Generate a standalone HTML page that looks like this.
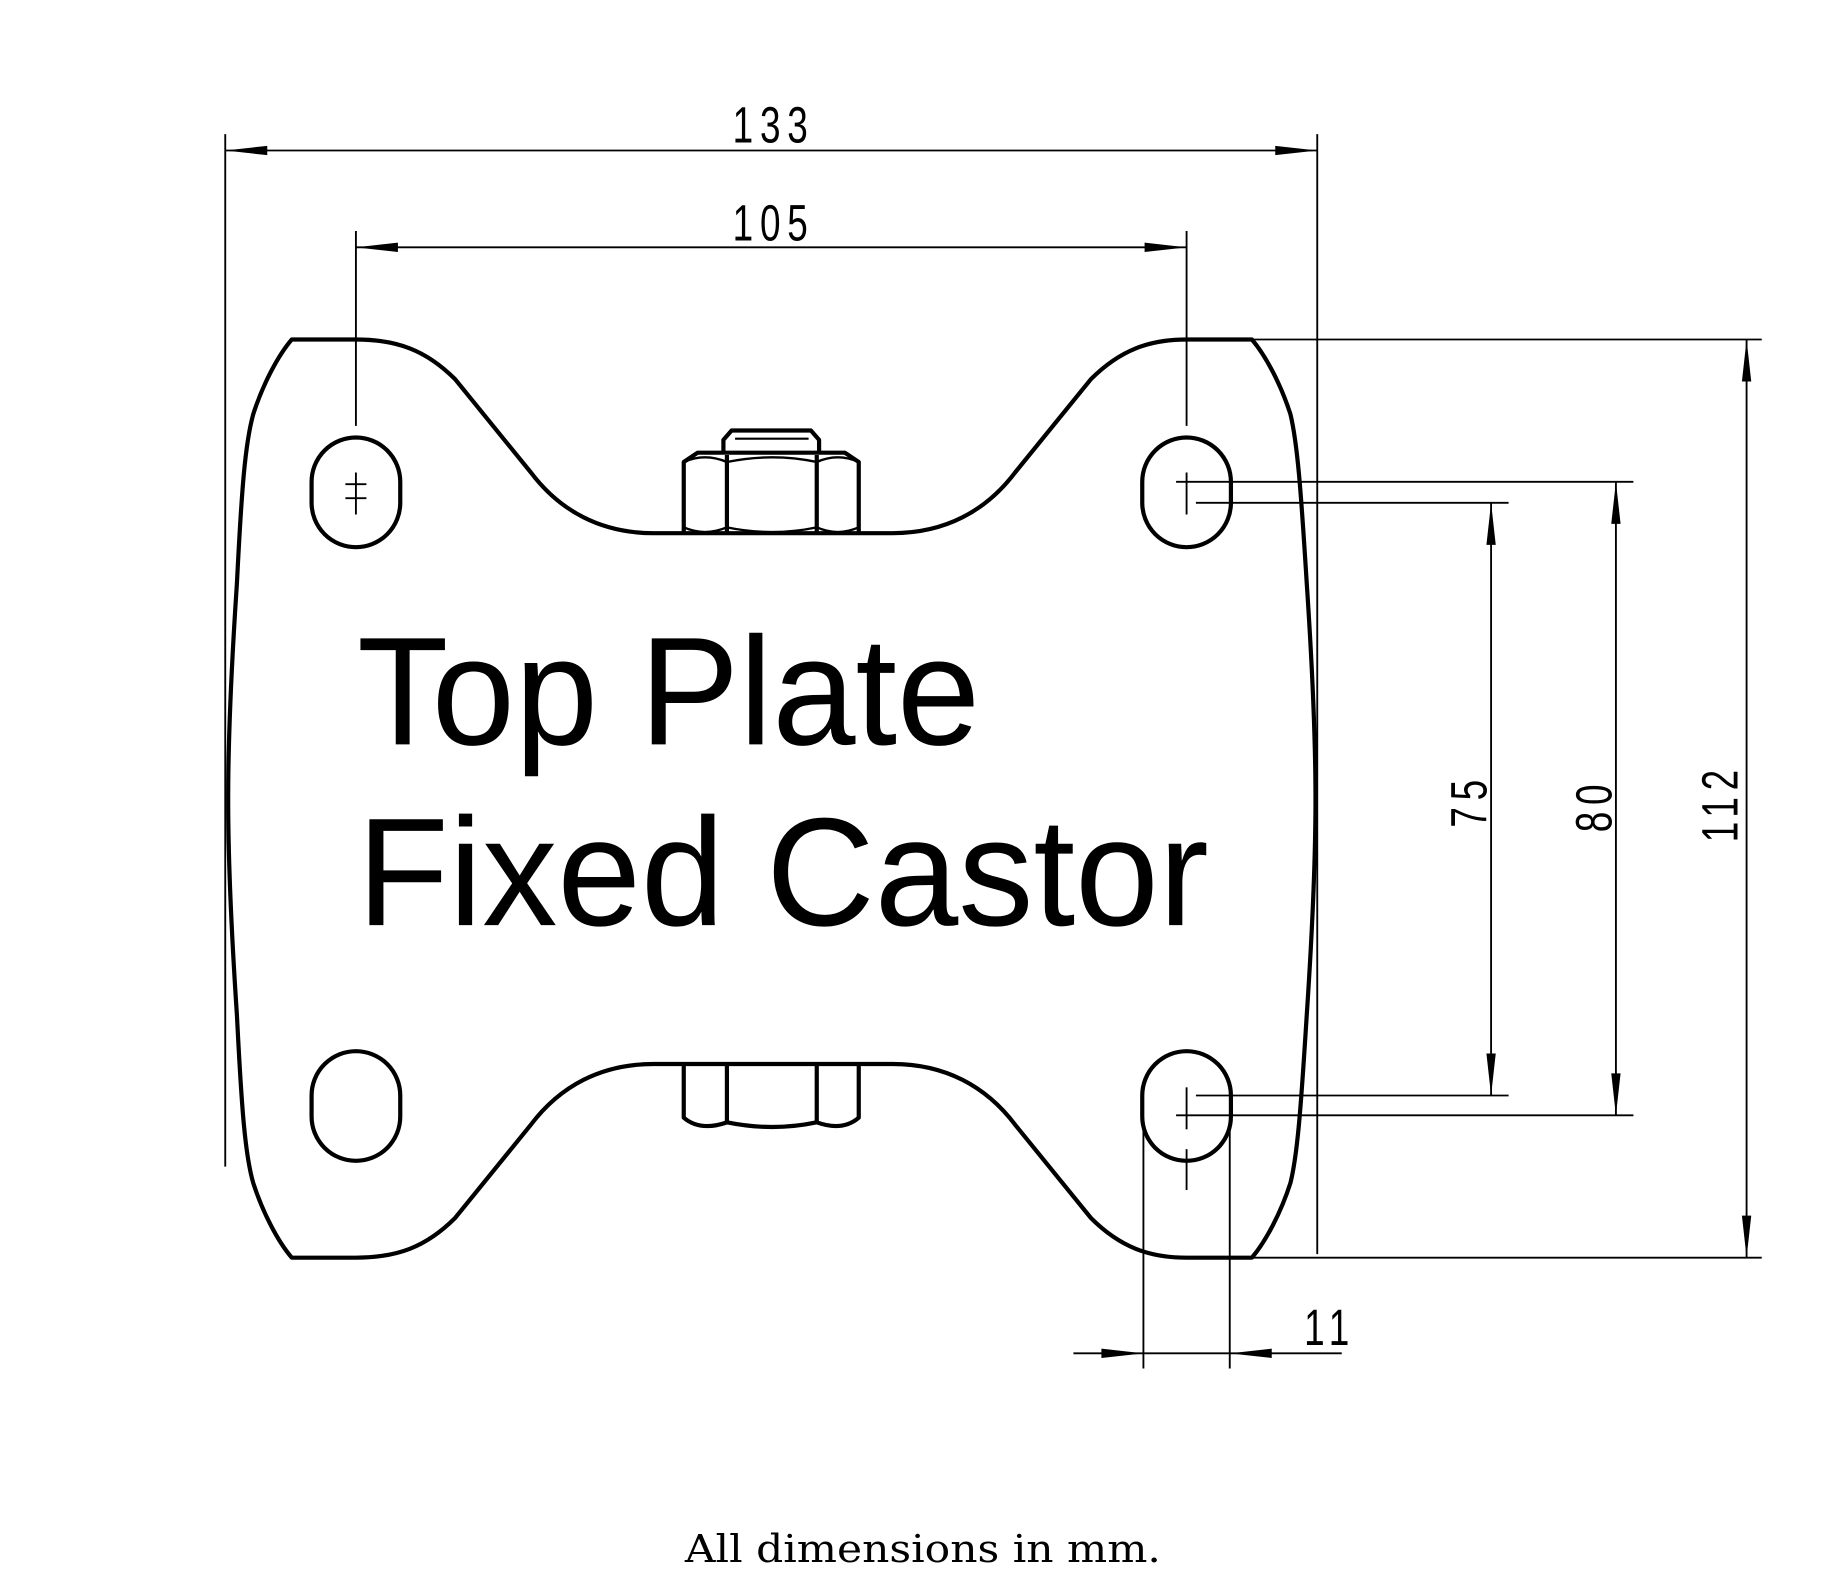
<!DOCTYPE html>
<html><head><style>html,body{margin:0;padding:0;background:#fff}svg{display:block}</style></head>
<body>
<svg width="1826" height="1575" viewBox="0 0 1565 1350" xmlns="http://www.w3.org/2000/svg">
<g fill="none" stroke="#000" stroke-width="1.6">
<!-- 133 -->
<line x1="193" y1="115" x2="193" y2="1000"/>
<line x1="1129" y1="115" x2="1129" y2="1075"/>
<line x1="193" y1="129" x2="1129" y2="129"/>
<!-- 105 -->
<line x1="305" y1="198" x2="305" y2="365"/>
<line x1="1017" y1="198" x2="1017" y2="365"/>
<line x1="305" y1="212" x2="1017" y2="212"/>
<!-- right ext -->
<line x1="1073" y1="291" x2="1510" y2="291"/>
<line x1="1073" y1="1078" x2="1510" y2="1078"/>
<line x1="1497" y1="291" x2="1497" y2="1078"/>
<line x1="1008" y1="413" x2="1400" y2="413"/>
<line x1="1008" y1="956" x2="1400" y2="956"/>
<line x1="1385" y1="413" x2="1385" y2="956"/>
<line x1="1025" y1="431" x2="1293" y2="431"/>
<line x1="1025" y1="939" x2="1293" y2="939"/>
<line x1="1278" y1="431" x2="1278" y2="939"/>
<!-- 11 -->
<line x1="980" y1="962" x2="980" y2="1173"/>
<line x1="1054" y1="962" x2="1054" y2="1173"/>
<line x1="920" y1="1160" x2="1150" y2="1160"/>
<!-- crosshairs -->
<line x1="305" y1="405" x2="305" y2="441"/><line x1="296" y1="415" x2="314" y2="415"/><line x1="296" y1="427" x2="314" y2="427"/>
<line x1="1017" y1="405" x2="1017" y2="441"/>
<line x1="1017" y1="932" x2="1017" y2="968"/>
<line x1="1017" y1="985" x2="1017" y2="1020"/>
</g>
<g fill="#000">
<path d="M193,129 l36,-4 v8 z"/><path d="M1129,129 l-36,-4 v8 z"/>
<path d="M305,212 l36,-4 v8 z"/><path d="M1017,212 l-36,-4 v8 z"/>
<path d="M1497,291 l-4,36 h8 z"/><path d="M1497,1078 l-4,-36 h8 z"/>
<path d="M1385,413 l-4,36 h8 z"/><path d="M1385,956 l-4,-36 h8 z"/>
<path d="M1278,431 l-4,36 h8 z"/><path d="M1278,939 l-4,-36 h8 z"/>
<path d="M980,1160 l-36,-4 v8 z"/><path d="M1054,1160 l36,-4 v8 z"/>
</g>
<g fill="none" stroke="#000" stroke-width="3.6" stroke-linejoin="round">
<path d="M250,291 H305 C340,291 365,300 390,325 L455,405 C480,438 515,457 560,457 H765 C810,457 845,438 870,405 L935,325 C960,300 985,291 1017,291 H1073 C1085,305 1098,330 1106,355 C1112,380 1115,420 1120,500 C1130,650 1130,720 1120,870 C1115,950 1112,990 1106,1014 C1098,1039 1085,1064 1073,1078 H1017 C985,1078 960,1069 935,1044 L870,964 C845,931 810,912 765,912 H560 C515,912 480,931 455,964 L390,1044 C365,1069 340,1078 305,1078 H250 C238,1064 225,1039 217,1014 C210,990 207,950 203,870 C193,720 193,650 203,500 C207,420 210,380 217,355 C225,330 238,305 250,291 Z"/>
<rect x="267" y="375" width="76" height="94" rx="38" ry="38"/>
<rect x="979" y="375" width="76" height="94" rx="38" ry="38"/>
<rect x="267" y="901" width="76" height="94" rx="38" ry="38"/>
<rect x="979" y="901" width="76" height="94" rx="38" ry="38"/>
<!-- top nut -->
<path d="M620,387 V377 L627,369 H695 L702,377 V387"/>
<line x1="630" y1="376" x2="693" y2="376" stroke-width="1.8"/>
<path d="M586,457 V396 L598,388 H724 L736,396 V457"/>
<line x1="623" y1="390" x2="623" y2="457"/><line x1="700" y1="390" x2="700" y2="457"/>
<path d="M586,396 Q604,388 623,396 Q662,388 700,396 Q718,388 736,396" stroke-width="2"/>
<path d="M586,452 Q604,460 623,452 Q662,460 700,452 Q718,460 736,452" stroke-width="2"/>
<!-- bottom nut -->
<path d="M586,912 V958 Q600,970 623,962 Q662,970 700,962 Q722,970 736,958 V912"/>
<line x1="623" y1="912" x2="623" y2="962"/><line x1="700" y1="912" x2="700" y2="962"/>
</g>
<g font-family="Liberation Sans, sans-serif" font-size="44" fill="#000">
<text x="663" y="122" text-anchor="middle" transform="translate(663,0) scale(0.72,1) translate(-663,0)" letter-spacing="8">133</text>
<text x="663" y="206" text-anchor="middle" transform="translate(663,0) scale(0.72,1) translate(-663,0)" letter-spacing="8">105</text>
<text x="1140" y="1153" text-anchor="middle" transform="translate(1140,0) scale(0.72,1) translate(-1140,0)" letter-spacing="8">11</text>
<text transform="translate(1274,686) rotate(-90) scale(0.72,1)" text-anchor="middle" letter-spacing="8">75</text>
<text transform="translate(1381,690) rotate(-90) scale(0.72,1)" text-anchor="middle" letter-spacing="8">80</text>
<text transform="translate(1489,688) rotate(-90) scale(0.72,1)" text-anchor="middle" letter-spacing="8">112</text>
</g>
<g font-family="Liberation Sans, Arial, sans-serif" font-size="132" fill="#000">
<text x="306" y="638" textLength="534" lengthAdjust="spacingAndGlyphs">Top Plate</text>
<text x="306" y="793" textLength="730" lengthAdjust="spacingAndGlyphs">Fixed Castor</text>
</g>
<text x="587" y="1339" font-family="DejaVu Serif, Liberation Serif, serif" font-size="33" textLength="408" lengthAdjust="spacingAndGlyphs" fill="#000">All dimensions in mm.</text>
</svg>
</body></html>
